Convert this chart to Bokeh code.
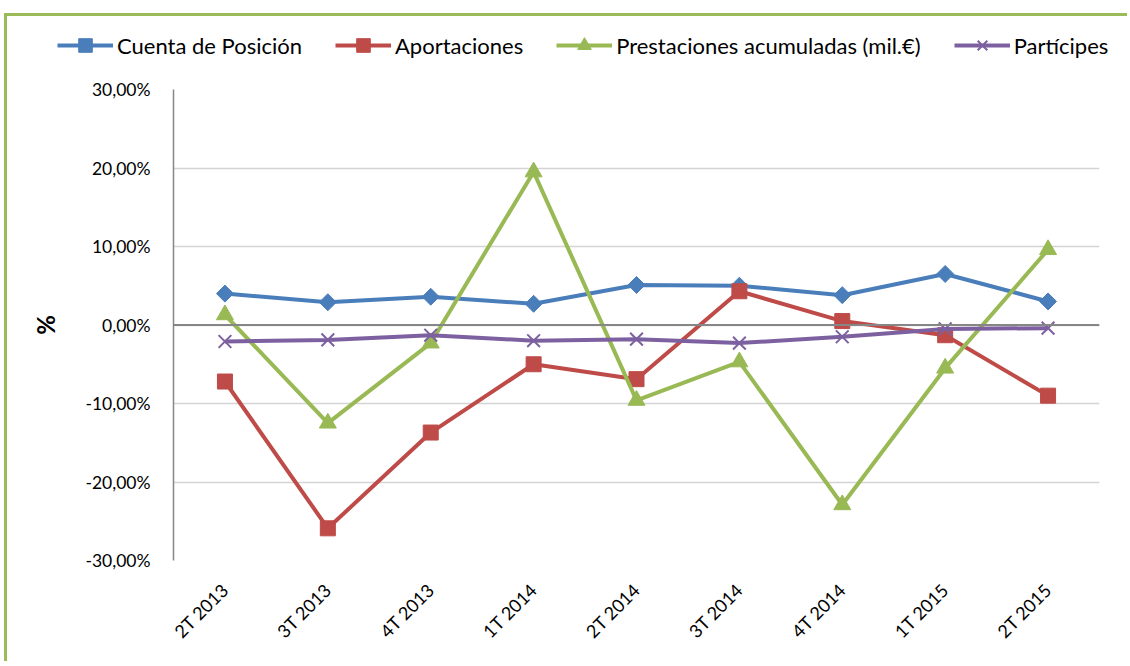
import math
from bokeh.plotting import figure
from bokeh.layouts import column
from bokeh.models import (FactorRange, FixedTicker, CustomJSTickFormatter, Span,
                          Legend, LegendItem, Range1d)
from bokeh.embed import file_html
from bokeh.resources import INLINE

categories = ["2T 2013", "3T 2013", "4T 2013", "1T 2014", "2T 2014",
              "3T 2014", "4T 2014", "1T 2015", "2T 2015"]
cuenta = [4.0, 2.9, 3.6, 2.7, 5.1, 5.0, 3.8, 6.5, 3.0]
aportaciones = [-7.2, -25.9, -13.7, -5.0, -6.9, 4.3, 0.5, -1.3, -9.0]
prestaciones = [1.3, -12.5, -2.3, 19.5, -9.6, -4.7, -22.9, -5.5, 9.6]
participes = [-2.1, -1.9, -1.3, -2.0, -1.8, -2.3, -1.5, -0.5, -0.4]
y_ticks = [-30, -20, -10, 0, 10, 20, 30]

FONT = "Lato"

p = figure(x_range=FactorRange(*categories, range_padding=0), y_range=(-30, 30),
           width=1120, height=595, output_backend="svg", toolbar_location=None,
           min_border_left=166, min_border_right=28, min_border_top=23,
           min_border_bottom=101)
p.outline_line_color = None
p.background_fill_color = "white"
p.border_fill_color = "white"

# grid
p.xgrid.grid_line_color = None
p.ygrid.grid_line_color = "#D4D4D4"
p.ygrid.grid_line_width = 1.5

# y axis
p.yaxis.ticker = FixedTicker(ticks=y_ticks)
p.yaxis.formatter = CustomJSTickFormatter(
    code="return tick.toFixed(2).replace('.', ',') + '%';")
p.yaxis.axis_line_color = "#868686"
p.yaxis.axis_line_width = 1.5
p.yaxis.major_tick_line_color = None
p.yaxis.minor_tick_line_color = None
p.yaxis.major_label_text_font = FONT
p.yaxis.major_label_text_font_size = "17.5px"
p.yaxis.major_label_text_color = "black"
p.yaxis.major_label_standoff = 17
p.yaxis.axis_label = "%"
p.yaxis.axis_label_text_font = FONT
p.yaxis.axis_label_text_font_size = "24px"
p.yaxis.axis_label_text_font_style = "bold"
p.yaxis.axis_label_text_color = "black"
p.yaxis.axis_label_standoff = 22

# x axis
p.xaxis.axis_line_color = None
p.xaxis.major_tick_line_color = None
p.xaxis.minor_tick_line_color = None
p.xaxis.major_label_orientation = math.pi / 4
p.xaxis.major_label_text_font = FONT
p.xaxis.major_label_text_font_size = "18px"
p.xaxis.major_label_text_color = "black"
p.xaxis.major_label_standoff = 20

# zero line
p.add_layout(Span(location=0, dimension="width", line_color="#868686", line_width=2))

series = [
    ("Cuenta de Posición", cuenta, "#4A7EBB", "square", 12, math.pi / 4),
    ("Aportaciones", aportaciones, "#BE4B48", "square", 15, 0),
    ("Prestaciones acumuladas (mil.€)", prestaciones, "#98B954", "triangle", 17, 0),
    ("Partícipes", participes, "#7D60A0", "x", 18, 0),
]

# legend strip figure
lg = figure(width=1120, height=50, output_backend="svg", toolbar_location=None,
            x_range=Range1d(0, 1), y_range=Range1d(0, 1),
            x_axis_location=None, y_axis_location=None,
            min_border=0, min_border_left=0, min_border_right=0,
            min_border_top=0, min_border_bottom=0)
lg.grid.visible = False
lg.outline_line_color = None
lg.background_fill_color = "white"
lg.border_fill_color = "white"
for fig in (lg, p):
    if "frame_align" in fig.properties():
        fig.frame_align = False


def draw(fig, xs, ys, color, marker, size, ang):
    r1 = fig.line(xs, ys, line_color=color, line_width=4)
    if marker == "x":
        r2 = fig.scatter(xs, ys, marker=marker, size=size,
                         line_color=color, line_width=2)
    else:
        r2 = fig.scatter(xs, ys, marker=marker, size=size, angle=ang,
                         fill_color=color, line_color=color)
    return r1, r2


items = []
for name, vals, color, marker, size, ang in series:
    draw(p, categories, vals, color, marker, size, ang)
    # legend-only renderers, their single point lies outside the strip's range
    r1, r2 = draw(lg, [-5], [-5], color, marker, size, ang)
    items.append(LegendItem(label=name, renderers=[r1, r2]))

legend = Legend(items=items, orientation="horizontal", location=(50, 4),
                glyph_width=56, glyph_height=34, label_standoff=4, spacing=33,
                label_text_font=FONT, label_text_font_size="22px",
                label_text_color="black", border_line_color=None,
                background_fill_alpha=0, padding=0, margin=0)
lg.add_layout(legend, "center")

layout = column(lg, p, spacing=0,
                styles={"border-left": "3px solid #9BBB59",
                        "border-top": "3px solid #9BBB59",
                        "margin-left": "4px", "margin-top": "13px"})

open("out.html", "w").write(file_html(layout, INLINE))
